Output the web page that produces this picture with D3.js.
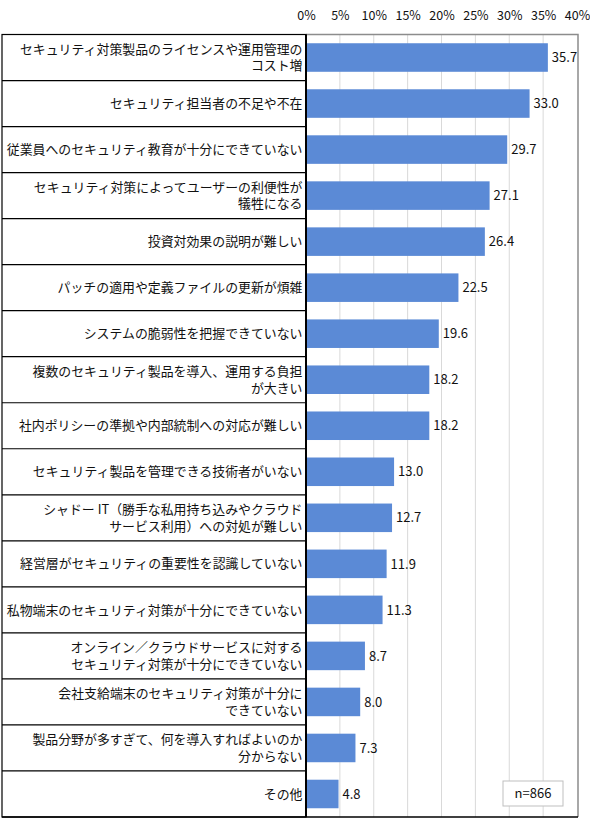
<!DOCTYPE html>
<html>
<head>
<meta charset="utf-8">
<script src="https://cdn.jsdelivr.net/npm/d3@7"></script>
<style>
  body { margin: 0; background: #fff; }
  text { font-family: "Noto Sans CJK JP", "Noto Sans", sans-serif; fill: #111; }
</style>
</head>
<body>
<svg></svg>
<script>
// categories (\n marks where the original label wraps)
const categories = [
	'セキュリティ対策製品のライセンスや運用管理の\nコスト増',
	'セキュリティ担当者の不足や不在',
	'従業員へのセキュリティ教育が十分にできていない',
	'セキュリティ対策によってユーザーの利便性が\n犠牲になる',
	'投資対効果の説明が難しい',
	'パッチの適用や定義ファイルの更新が煩雑',
	'システムの脆弱性を把握できていない',
	'複数のセキュリティ製品を導入、運用する負担\nが大きい',
	'社内ポリシーの準拠や内部統制への対応が難しい',
	'セキュリティ製品を管理できる技術者がいない',
	'シャドー IT（勝手な私用持ち込みやクラウド\nサービス利用）への対処が難しい',
	'経営層がセキュリティの重要性を認識していない',
	'私物端末のセキュリティ対策が十分にできていない',
	'オンライン／クラウドサービスに対する\nセキュリティ対策が十分にできていない',
	'会社支給端末のセキュリティ対策が十分に\nできていない',
	'製品分野が多すぎて、何を導入すればよいのか\n分からない',
	'その他'
];
const values = [35.7, 33.0, 29.7, 27.1, 26.4, 22.5, 19.6, 18.2, 18.2, 13.0, 12.7, 11.9, 11.3, 8.7, 8.0, 7.3, 4.8];
const tickValues = [0, 5, 10, 15, 20, 25, 30, 35, 40];
const sampleNote = 'n=866';

const width = 590;
const height = 835;
const tableLeft = 2;
const plotLeft = 306;
const plotRight = 577;
const plotTop = 34.5;
const plotBottom = 817;
const labelSize = 12.9;

const svg = d3.select('svg')
	.attr('width', width)
	.attr('height', height);

const xScale = d3.scaleLinear()
	.domain([0, 40])
	.range([plotLeft, plotRight]);

const yScale = d3.scaleBand()
	.domain(d3.range(categories.length))
	.range([plotTop, plotBottom])
	.paddingInner(0.38)
	.paddingOuter(0.19);

// gridlines
svg.append('g')
	.selectAll('line')
	.data(tickValues.slice(1, -1))
	.join('line')
	.attr('x1', d => xScale(d))
	.attr('x2', d => xScale(d))
	.attr('y1', plotTop)
	.attr('y2', plotBottom)
	.attr('stroke', '#d9d9d9')
	.attr('stroke-width', 1);

// top axis, labels only
const xAxis = d3.axisTop(xScale)
	.tickValues(tickValues)
	.tickFormat(d => d + '%')
	.tickSize(0)
	.tickPadding(0);

const xAxisGroup = svg.append('g')
	.attr('transform', 'translate(0, 20)')
	.call(xAxis);
xAxisGroup.select('.domain').remove();
xAxisGroup.selectAll('text')
	.attr('font-size', 12.5)
	.attr('fill', '#111')
	.style('font-family', '"Noto Sans CJK JP", sans-serif');

// plot frame (top + right in gray)
svg.append('path')
	.attr('d', `M${plotLeft},${plotTop}H${plotRight + 1}V${plotBottom}`)
	.attr('fill', 'none')
	.attr('stroke', '#8c8c8c')
	.attr('stroke-width', 1.5);

// bars
svg.append('g')
	.selectAll('rect')
	.data(values)
	.join('rect')
	.attr('x', xScale(0))
	.attr('y', (d, i) => yScale(i))
	.attr('width', d => xScale(d) - xScale(0))
	.attr('height', yScale.bandwidth())
	.attr('fill', '#5b8ad6');

// value labels
svg.append('g')
	.selectAll('text')
	.data(values)
	.join('text')
	.attr('x', d => xScale(d) + 4)
	.attr('y', (d, i) => yScale(i) + yScale.bandwidth() / 2)
	.attr('dy', '0.36em')
	.attr('font-size', 13)
	.text(d => d.toFixed(1));

// label table
const rowH = (plotBottom - plotTop) / categories.length;
const rows = svg.append('g');

rows.selectAll('line')
	.data(d3.range(1, categories.length))
	.join('line')
	.attr('x1', tableLeft)
	.attr('x2', plotLeft)
	.attr('y1', i => plotTop + i * rowH)
	.attr('y2', i => plotTop + i * rowH)
	.attr('stroke', '#000')
	.attr('stroke-width', 1.2);

rows.append('rect')
	.attr('x', tableLeft)
	.attr('y', plotTop)
	.attr('width', plotLeft - tableLeft)
	.attr('height', plotBottom - plotTop)
	.attr('fill', 'none')
	.attr('stroke', '#000')
	.attr('stroke-width', 1.2);

// thicker left axis line and bottom line
svg.append('line')
	.attr('x1', plotLeft).attr('x2', plotLeft)
	.attr('y1', plotTop).attr('y2', plotBottom)
	.attr('stroke', '#000')
	.attr('stroke-width', 2);
svg.append('line')
	.attr('x1', tableLeft).attr('x2', plotRight + 1)
	.attr('y1', plotBottom).attr('y2', plotBottom)
	.attr('stroke', '#000')
	.attr('stroke-width', 1.5);

const labels = rows.append('g')
	.selectAll('text')
	.data(categories)
	.join('text')
	.attr('text-anchor', 'end')
	.attr('font-size', labelSize)
	.attr('y', (d, i) => plotTop + (i + 0.5) * rowH);

labels.each(function (d) {
	const lines = d.split('\n');
	const t = d3.select(this);
	const lineH = 16.5;
	lines.forEach((ln, j) => {
		t.append('tspan')
			.attr('x', plotLeft - 3.5)
			.attr('dy', j === 0 ? (0.36 * labelSize - (lines.length - 1) * lineH / 2) : lineH)
			.text(ln);
	});
});

// sample size box
const note = svg.append('g');
note.append('rect')
	.attr('x', 503)
	.attr('y', 781)
	.attr('width', 60)
	.attr('height', 25)
	.attr('fill', '#fff')
	.attr('stroke', '#bfbfbf')
	.attr('stroke-width', 1);
note.append('text')
	.attr('x', 533)
	.attr('y', 793.5)
	.attr('dy', '0.36em')
	.attr('text-anchor', 'middle')
	.attr('font-size', 13)
	.text(sampleNote);
</script>
</body>
</html>
